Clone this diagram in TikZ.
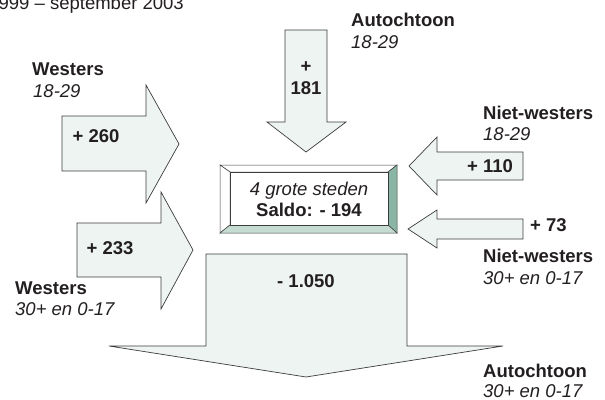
\documentclass[tikz,border=0pt]{standalone}
\usepackage{fontspec}
\setmainfont{Liberation Sans}

\definecolor{pijlgroen}{RGB}{238,244,242}
\definecolor{rand}{RGB}{60,60,60}
\definecolor{donkergroen}{RGB}{138,180,163}
\definecolor{lichtgroen}{RGB}{197,220,211}
\definecolor{tekst}{RGB}{35,31,32}

\begin{document}
\begin{tikzpicture}[x=1pt, y=-1pt,
        pijl/.style={fill=pijlgroen, draw=rand, line width=0.7pt, line join=miter},
        kop/.style={anchor=base west, inner sep=0pt, text=tekst, font=\fontsize{18.5}{22}\selectfont\bfseries},
        sub/.style={kop, font=\fontsize{18.5}{22}\selectfont\itshape},
        getal/.style={kop, anchor=base},
        kader/.style={draw=rand, line width=0.5pt}]
        \useasboundingbox (0,0) rectangle (605,399);
        \clip (0,0) rectangle (605,399);

        % pijlen
        \draw[pijl] (62,116) -- (146,116) -- (146,85) -- (179,144) -- (146,203) -- (146,171) -- (62,171) -- cycle;
        \draw[pijl] (77,223) -- (161,223) -- (161,192) -- (193,250) -- (161,309) -- (161,277) -- (77,277) -- cycle;
        \draw[pijl] (285,30) -- (327,30) -- (327,122) -- (346,122) -- (306,152) -- (267,122) -- (285,122) -- cycle;
        \draw[pijl] (523,152) -- (437,152) -- (437,137) -- (409,166) -- (437,195) -- (437,180) -- (523,180) -- cycle;
        \draw[pijl] (523,219) -- (437,219) -- (437,210) -- (408,229) -- (437,248) -- (437,239) -- (523,239) -- cycle;
        \draw[pijl] (206,254) -- (407,254) -- (407,346) -- (503,346) -- (306,377) -- (109,346) -- (206,346) -- cycle;

        % kader 4 grote steden
        \filldraw[kader, fill=white] (220,165) -- (397,165) -- (388,172) -- (230,172) -- cycle;
        \filldraw[kader, fill=white] (220,165) -- (230,172) -- (230,225) -- (220,233) -- cycle;
        \filldraw[kader, fill=donkergroen] (397,165) -- (397,233) -- (388,225) -- (388,172) -- cycle;
        \filldraw[kader, fill=lichtgroen] (220,233) -- (397,233) -- (388,225) -- (230,225) -- cycle;
        \filldraw[kader, fill=white] (230,172) rectangle (388,225);

        \node[sub, anchor=base] (steden) at (309,195) {4 grote steden};
        \node[getal] (saldo) at (309,216) {Saldo: - 194};

        % teksten
        \node[kop, anchor=base east, font=\fontsize{18.5}{22}\selectfont] (periode) at (184,9) {1999 – september 2003};

        \node[kop] (wjong) at (32,75) {Westers};
        \node[sub] (wjong_lft) at (33,97) {18-29};
        \node[getal] (wjong_n) at (96,142) {+ 260};

        \node[kop] (woud) at (15,294) {Westers};
        \node[sub] (woud_lft) at (15,315) {30+ en 0-17};
        \node[getal] (woud_n) at (110,254) {+ 233};

        \node[kop] (ajong) at (351,26) {Autochtoon};
        \node[sub] (ajong_lft) at (351,48) {18-29};
        \node[getal] (ajong_p) at (306,72) {+};
        \node[getal] (ajong_n) at (306,94) {181};

        \node[kop] (nwjong) at (483,119) {Niet-westers};
        \node[sub] (nwjong_lft) at (483,140) {18-29};
        \node[getal] (nwjong_n) at (490,172) {+ 110};

        \node[kop] (nwoud_n) at (530,231) {+ 73};
        \node[kop] (nwoud) at (483,262) {Niet-westers};
        \node[sub] (nwoud_lft) at (483,284) {30+ en 0-17};

        \node[getal] (aoud_n) at (306,287) {- 1.050};
        \node[kop] (aoud) at (483,377) {Autochtoon};
        \node[sub] (aoud_lft) at (483,397) {30+ en 0-17};
    \end{tikzpicture}
\end{document}
